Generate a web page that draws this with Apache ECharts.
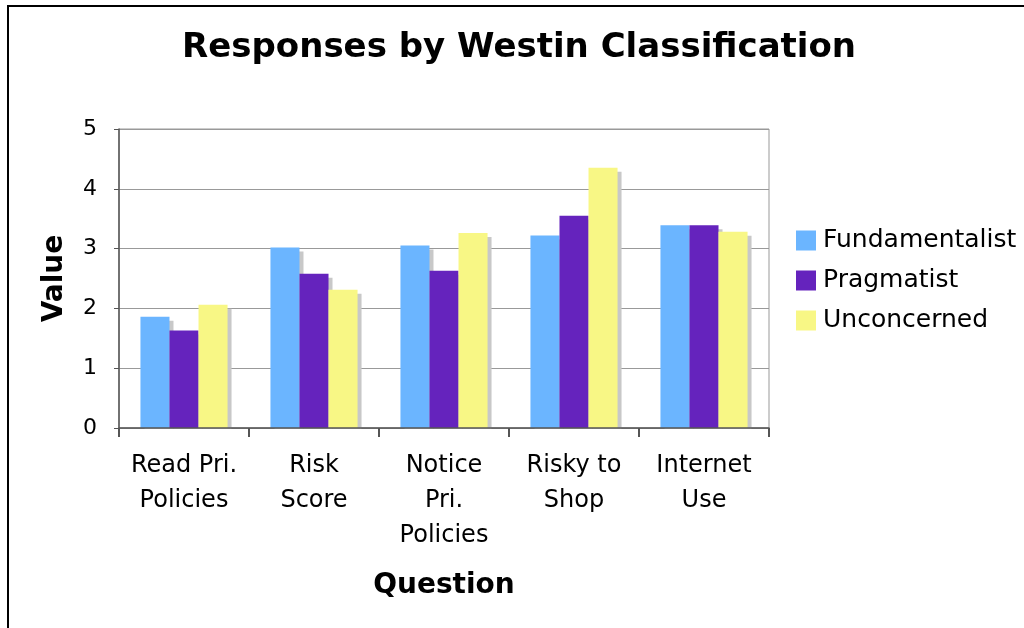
<!DOCTYPE html>
<html>
<head>
<meta charset="utf-8">
<script src="https://cdn.jsdelivr.net/npm/echarts@6/dist/echarts.min.js"></script>
<style>
  body { margin: 0; background: #fff; }
  #chart { width: 1024px; height: 628px; }
</style>
</head>
<body>
<div id="chart"></div>
<script>
// questions on the x axis
var categories = ['Read Pri.\nPolicies', 'Risk\nScore', 'Notice\nPri.\nPolicies', 'Risky to\nShop', 'Internet\nUse'];
// mean value per Westin group
var fundamentalist = [1.86, 3.02, 3.05, 3.22, 3.39];
var pragmatist = [1.63, 2.58, 2.63, 3.55, 3.39];
var unconcerned = [2.06, 2.31, 3.26, 4.35, 3.28];
var yTicks = [0, 1, 2, 3, 4, 5];

var fontName = 'DejaVu Sans';
var chart = echarts.init(document.getElementById('chart'));

function barSeries(name, data, color) {
    return {
        name: name,
        type: 'bar',
        data: data,
        barGap: '0%',
        barCategoryGap: '33%',
        itemStyle: {
            color: color,
            shadowColor: '#c8c8c8',
            shadowOffsetX: 4,
            shadowOffsetY: 4,
            shadowBlur: 0
        }
    };
}

var option = {
    backgroundColor: '#fff',
    animation: false,
    textStyle: { fontFamily: fontName },
    title: {
        text: 'Responses by Westin Classification',
        left: 177,
        top: 26,
        textStyle: { fontFamily: fontName, fontSize: 34, fontWeight: 'bold', color: '#000' }
    },
    graphic: [
        // outer frame of the picture
        {
            type: 'rect',
            shape: { x: 8, y: 6, width: 1100, height: 700 },
            style: { fill: 'none', stroke: '#000', lineWidth: 2 },
            silent: true
        },
        // hide the bar shadows below the x axis
        {
            type: 'rect',
            z: 50,
            shape: { x: 121, y: 429, width: 650, height: 6 },
            style: { fill: '#fff' },
            silent: true
        }
    ],
    legend: {
        orient: 'vertical',
        left: 791,
        top: 223,
        itemWidth: 20,
        itemHeight: 20,
        itemGap: 15,
        icon: 'rect',
        textStyle: { fontFamily: fontName, fontSize: 25, color: '#000', padding: [0, 0, 0, 2] }
    },
    grid: {
        left: 119,
        right: 255,
        top: 129,
        bottom: 200,
        show: true,
        borderColor: '#999',
        borderWidth: 1
    },
    xAxis: {
        type: 'category',
        data: categories,
        zlevel: 1,
        name: 'Question',
        nameLocation: 'middle',
        nameGap: 144,
        nameTextStyle: { fontFamily: fontName, fontSize: 28, fontWeight: 'bold', color: '#000' },
        axisLine: { lineStyle: { color: '#555', width: 1.5 } },
        axisTick: { show: true, interval: 0, length: 9, lineStyle: { color: '#555', width: 2 } },
        axisLabel: { interval: 0, fontFamily: fontName, fontSize: 24, color: '#000', lineHeight: 35, margin: 20 }
    },
    yAxis: {
        type: 'value',
        min: yTicks[0],
        max: yTicks[yTicks.length - 1],
        interval: 1,
        name: 'Value',
        nameLocation: 'middle',
        nameGap: 50,
        nameTextStyle: { fontFamily: fontName, fontSize: 28, fontWeight: 'bold', color: '#000' },
        axisLine: { show: true, lineStyle: { color: '#555', width: 1.5 } },
        axisTick: { show: true, length: 5, lineStyle: { color: '#555' } },
        axisLabel: { fontFamily: fontName, fontSize: 22, color: '#000', margin: 22 },
        splitLine: { lineStyle: { color: '#999', width: 1 } }
    },
    series: [
        barSeries('Fundamentalist', fundamentalist, '#6bb5ff'),
        barSeries('Pragmatist', pragmatist, '#6523bd'),
        barSeries('Unconcerned', unconcerned, '#f8f785')
    ]
};

chart.setOption(option);
</script>
</body>
</html>
